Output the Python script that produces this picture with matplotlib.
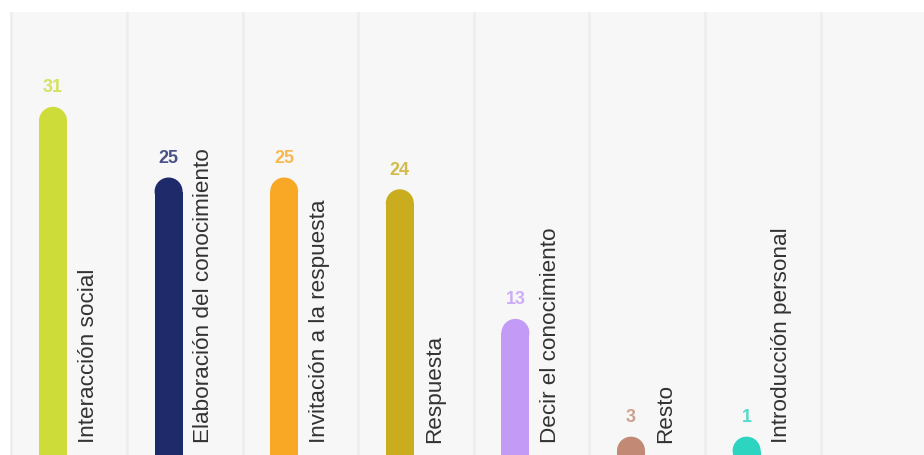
import matplotlib
matplotlib.use("Agg")
import matplotlib.pyplot as plt
from matplotlib.patches import Ellipse

categories = ["Interacción social", "Elaboración del conocimiento", "Invitación a la respuesta",
              "Respuesta", "Decir el conocimiento", "Resto", "Introducción personal"]
values = [31, 25, 25, 24, 13, 3, 1]
colors = ["#cddc39", "#1f2a6b", "#f9a825", "#c9ad1f", "#c39bf7", "#c28a75", "#2dd4bf"]

plt.rcParams["font.family"] = ["Liberation Sans", "DejaVu Sans"]

fig = plt.figure(figsize=(9.24, 4.55), dpi=100)
fig.patch.set_facecolor("white")
# panel: x from 10 px to right edge, y from 12 px to bottom
ax = fig.add_axes([10 / 924, 0, 914 / 924, 443 / 455])
ax.set_facecolor("#f7f7f7")

col_w = 115.6                # px per column
px_per_unit = 11.78          # px per value unit
left_px = 11.4               # first column boundary in px (figure coords)
x0 = -0.5 - (left_px - 10) / col_w
x1 = x0 + 914 / col_w
ax.set_xlim(x0, x1)
ax.set_ylim((472 - 455) / px_per_unit, (472 - 12) / px_per_unit)

bar_off = 41.6 / col_w - 0.5   # bar center relative to column center
bar_w = 28 / col_w
r_y = 14 / px_per_unit         # cap radius in y data units
min_shown = 3.0                # smallest visible bar height

for k in range(-1, 8):
    ax.axvline(k + 0.5, color="#ededed", lw=1.8, zorder=1)

for i, (cat, v, c) in enumerate(zip(categories, values, colors)):
    xc = i + bar_off
    top = max(v, min_shown)
    ax.bar(xc, top - r_y, width=bar_w, bottom=0, color=c, zorder=3)
    ax.add_patch(Ellipse((xc, top - r_y), bar_w, 2 * r_y, color=c, zorder=3, lw=0))
    ax.text(xc, top + 19 / px_per_unit, str(v), color=c, alpha=0.8, fontsize=13,
            fontweight="bold", ha="center", va="center", zorder=4)
    ax.text(xc + 40.5 / col_w, (472 - 443) / px_per_unit, cat, rotation=90,
            rotation_mode="anchor", ha="left", va="baseline",
            fontsize=16.2, color="#333333", zorder=4)

for s in ax.spines.values():
    s.set_visible(False)
ax.set_xticks([])
ax.set_yticks([])

plt.savefig("out.png", dpi=100, facecolor=fig.get_facecolor())
